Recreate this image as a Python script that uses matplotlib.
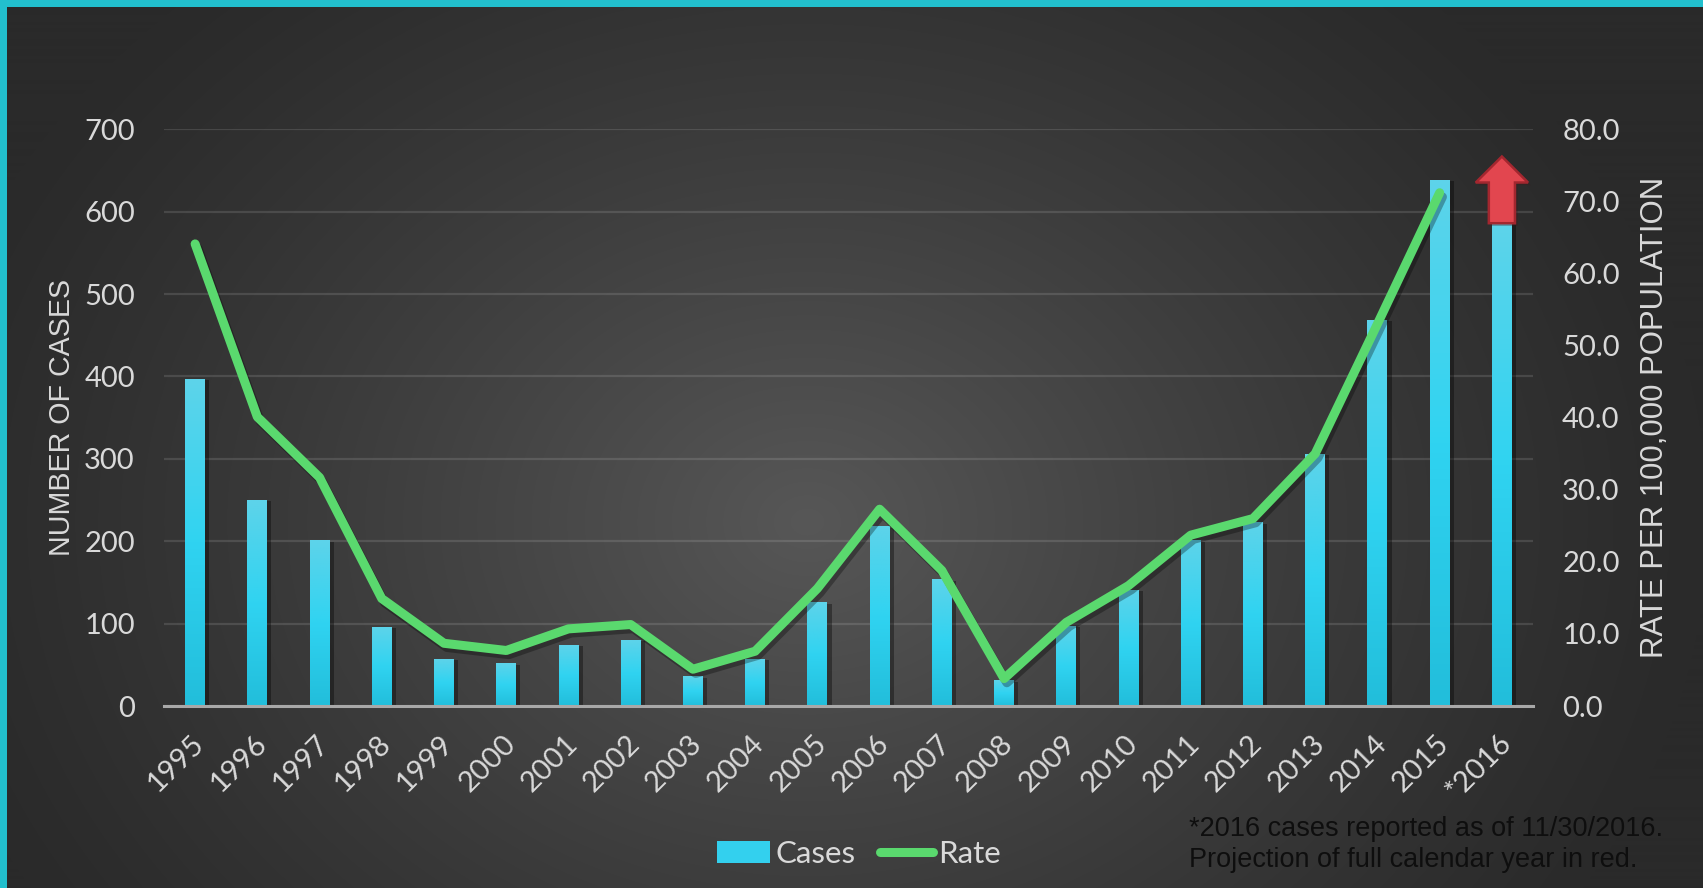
import numpy as np
import matplotlib
matplotlib.use('Agg')
import matplotlib.pyplot as plt
from matplotlib.colors import LinearSegmentedColormap
from matplotlib.patches import Polygon, Patch
from matplotlib.lines import Line2D
from matplotlib.transforms import ScaledTranslation
import matplotlib.patheffects as pe

# data
years = ['1995', '1996', '1997', '1998', '1999', '2000', '2001', '2002', '2003', '2004',
         '2005', '2006', '2007', '2008', '2009', '2010', '2011', '2012', '2013', '2014',
         '2015', '*2016']
cases = [397, 250, 201, 96, 57, 52, 74, 80, 36, 57,
         126, 218, 154, 31, 97, 141, 201, 223, 306, 469,
         639, 586]
rate = [64.1, 40.1, 31.7, 14.9, 8.7, 7.7, 10.7, 11.3, 5.1, 7.6,
        16.3, 27.3, 18.8, 3.8, 11.6, 16.7, 23.7, 26.0, 35.0, 53.0,
        71.2]
projection_2016 = 667
left_ticks = [0, 100, 200, 300, 400, 500, 600, 700]
right_ticks = [0, 10, 20, 30, 40, 50, 60, 70, 80]

W, H = 1703, 888
txt = '#d9d9d9'
tick_font = ['Lato', 'DejaVu Sans']
title_font = ['Liberation Sans', 'DejaVu Sans']

fig = plt.figure(figsize=(W / 100, H / 100), dpi=100)
fig.patch.set_facecolor('#22bfcd')

# dark panel with radial gradient
bg = fig.add_axes([7 / W, 0, 1 - 7 / W, 1 - 7 / H])
bg.set_axis_off()
yy, xx = np.mgrid[0:H - 7, 0:W - 7]
t = np.sqrt(((xx - 800) / 1000) ** 2 + ((yy - 515) / 800) ** 2)
g = 0x2a + (0x57 - 0x2a) * np.clip(1 - t / 0.9, 0, 1) ** 1.2
img = np.dstack([g, g, g]) / 255.0
bg.imshow(img, aspect='auto', extent=[0, 1, 0, 1])
bg.set_xlim(0, 1)
bg.set_ylim(0, 1)

ax = fig.add_axes([164 / W, (H - 706) / H, (1533 - 164) / W, (706 - 129.3) / H])
ax.set_facecolor('none')
x = np.arange(len(years))

bar_cmap = LinearSegmentedColormap.from_list('bar', ['#22bedb', '#30d3f1', '#5dd3ea'])
bars = ax.bar(x, cases, width=0.32, color='#33d0ee', zorder=2,
              path_effects=[pe.SimplePatchShadow(offset=(3, -1), alpha=0.35, shadow_rgbFace='black'),
                            pe.Normal()])
grad = np.linspace(0, 1, 100).reshape(-1, 1)
for b in bars:
    x0, w, h = b.get_x(), b.get_width(), b.get_height()
    im = ax.imshow(grad, cmap=bar_cmap, origin='lower', aspect='auto',
                   extent=[x0, x0 + w, 0, h], zorder=2.1)
    im.set_clip_path(b)

# projection arrow for 2016
i16 = len(years) - 1
base = cases[-1]
head = base + (projection_2016 - base) * 0.61
arrow = Polygon([[i16 - 0.21, base], [i16 - 0.21, head], [i16 - 0.42, head],
                 [i16, projection_2016], [i16 + 0.42, head], [i16 + 0.21, head],
                 [i16 + 0.21, base]],
                closed=True, facecolor='#e2464f', edgecolor='#a3272f', lw=1.8, zorder=3,
                path_effects=[pe.SimplePatchShadow(offset=(2, -2), alpha=0.3), pe.Normal()])
ax.add_patch(arrow)

ax.set_xlim(-0.5, len(years) - 0.5)
ax.set_ylim(0, 700)
ax.set_yticks(left_ticks)
ax.grid(axis='y', color='white', alpha=0.12, lw=1.6, zorder=0)
ax.set_axisbelow(True)
for s in ['top', 'right', 'left']:
    ax.spines[s].set_visible(False)
ax.spines['bottom'].set_color('#a8a8a8')
ax.spines['bottom'].set_linewidth(2.2)
ax.spines['bottom'].set_zorder(4)
ax.tick_params(axis='y', length=0, pad=21, labelsize=21, labelcolor=txt)
ax.tick_params(axis='x', length=0, pad=24, labelsize=21, labelcolor=txt)
ax.set_xticks(x)
ax.set_xticklabels(years, rotation=45, ha='right', va='center', rotation_mode='anchor')
offset = ScaledTranslation(5 / 100, 0, fig.dpi_scale_trans)
for lab in ax.get_xticklabels():
    lab.set_fontfamily(tick_font)
    lab.set_transform(lab.get_transform() + offset)
for lab in ax.get_yticklabels():
    lab.set_fontfamily(tick_font)
ax.set_ylabel('NUMBER OF CASES', fontsize=20.6, color=txt, family=title_font)
ax.yaxis.set_label_coords(-(164 - 76) / (1533 - 164), (706 - 417) / (706 - 129.3))

ax2 = ax.twinx()
ax2.set_facecolor('none')
ax2.plot(x[:len(rate)], rate, color='#5ad96e', lw=6.5, solid_capstyle='round',
         solid_joinstyle='round', zorder=5,
         path_effects=[pe.SimpleLineShadow(offset=(2, -3), alpha=0.3), pe.Normal()])
ax2.set_ylim(0, 80)
ax2.set_yticks(right_ticks)
ax2.set_yticklabels(['%.1f' % v for v in right_ticks], family=tick_font)
for s in ax2.spines.values():
    s.set_visible(False)
ax2.tick_params(axis='y', length=0, pad=21, labelsize=21, labelcolor=txt)
ax2.set_ylabel('RATE PER 100,000 POPULATION', fontsize=22.4, color=txt, family=title_font,
               rotation=90)
ax2.yaxis.set_label_coords((1640 - 164) / (1533 - 164), (706 - 417) / (706 - 129.3))

handles = [Patch(facecolor='#33d0ee', edgecolor='none'),
           Line2D([0], [0], color='#5ad96e', lw=6.5, solid_capstyle='round')]
leg = fig.legend(handles, ['Cases', 'Rate'], loc='center', bbox_to_anchor=(859 / W, (H - 854) / H),
                 ncol=2, frameon=False, handlelength=1.7, handletextpad=0.15,
                 columnspacing=0.8, prop={'family': tick_font, 'size': 22.5})
for tx in leg.get_texts():
    tx.set_color(txt)

fig.text(1189 / W, (H - 844) / H,
         '*2016 cases reported as of 11/30/2016.\nProjection of full calendar year in red.',
         fontsize=19.5, color='#0e0e0e', family=title_font, ha='left', va='center',
         linespacing=1.25)

fig.savefig('out.png', dpi=100, facecolor=fig.get_facecolor())
